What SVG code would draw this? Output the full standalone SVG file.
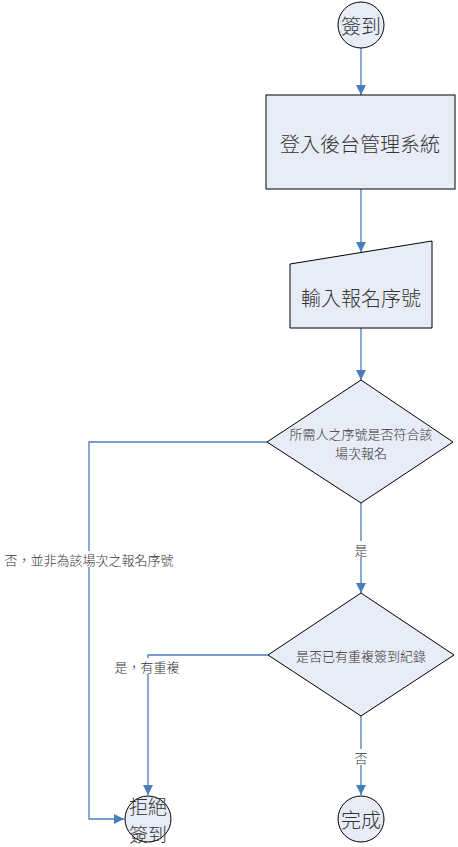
<svg xmlns="http://www.w3.org/2000/svg" width="458" height="847" viewBox="0 0 458 847">
<defs>
<style>
.shape{fill:#e7ecf6;stroke:#000;stroke-width:1}
.edge{fill:none;stroke:#4a7ebb;stroke-width:1.3}
.t{font-family:"Noto Sans CJK TC","Noto Sans CJK SC",sans-serif;fill:#333;text-anchor:middle;dominant-baseline:central;font-weight:300}
.big{font-size:20px}
.mid{font-size:19px}
.sm{font-size:13px}
.lbl{fill:#fff;stroke:none}
</style>
<marker id="ah" viewBox="0 0 10 10" refX="10" refY="5" markerWidth="10" markerHeight="10" markerUnits="userSpaceOnUse" orient="auto">
<path d="M0,0 L10,5 L0,10 z" fill="#4a7ebb"/>
</marker>
</defs>
<rect width="458" height="847" fill="#fff"/>
<g id="connectors">
<path class="edge" d="M361,48 V95" marker-end="url(#ah)"/>
<path class="edge" d="M361,189 V252" marker-end="url(#ah)"/>
<path class="edge" d="M361,328 V380" marker-end="url(#ah)"/>
<path class="edge" d="M361,503 V593" marker-end="url(#ah)"/>
<path class="edge" d="M361,716 V795" marker-end="url(#ah)"/>
<path class="edge" d="M267,442 H89 V819 H124" marker-end="url(#ah)"/>
<path class="edge" d="M268,655 H148 V795" marker-end="url(#ah)"/>
<rect class="lbl" x="352" y="541" width="18" height="16"/>
<text class="t sm" x="361" y="549">是</text>
<rect class="lbl" x="352" y="749" width="18" height="16"/>
<text class="t sm" x="361" y="757">否</text>
<rect class="lbl" x="2" y="551" width="174" height="16"/>
<text class="t sm" x="89" y="559">否，並非為該場次之報名序號</text>
<rect class="lbl" x="112" y="658" width="70" height="16"/>
<text class="t sm" x="147" y="666">是，有重複</text>
</g>
<g id="start">
<circle class="shape" cx="361" cy="25" r="23"/>
<text class="t big" x="361" y="25">簽到</text>
</g>
<g id="login">
<rect class="shape" x="266" y="95" width="189" height="94"/>
<text class="t big" x="360" y="143">登入後台管理系統</text>
</g>
<g id="input">
<path class="shape" d="M290,264 L432,241 V328 H290 z"/>
<text class="t big" x="361" y="297">輸入報名序號</text>
</g>
<g id="check1">
<path class="shape" d="M361,380 L453,442 L361,503 L267,442 z"/>
<text class="t sm" x="361" y="433">所需人之序號是否符合該</text>
<text class="t sm" x="361" y="452">場次報名</text>
</g>
<g id="check2">
<path class="shape" d="M361,593 L454,655 L361,716 L268,655 z"/>
<text class="t sm" x="361" y="655">是否已有重複簽到紀錄</text>
</g>
<g id="reject">
<circle class="shape" cx="148" cy="819" r="23"/>
<text class="t mid" x="148" y="805">拒絕</text>
<text class="t mid" x="148" y="833">簽到</text>
</g>
<g id="done">
<circle class="shape" cx="361" cy="819" r="23"/>
<text class="t big" x="361" y="819">完成</text>
</g>
</svg>
